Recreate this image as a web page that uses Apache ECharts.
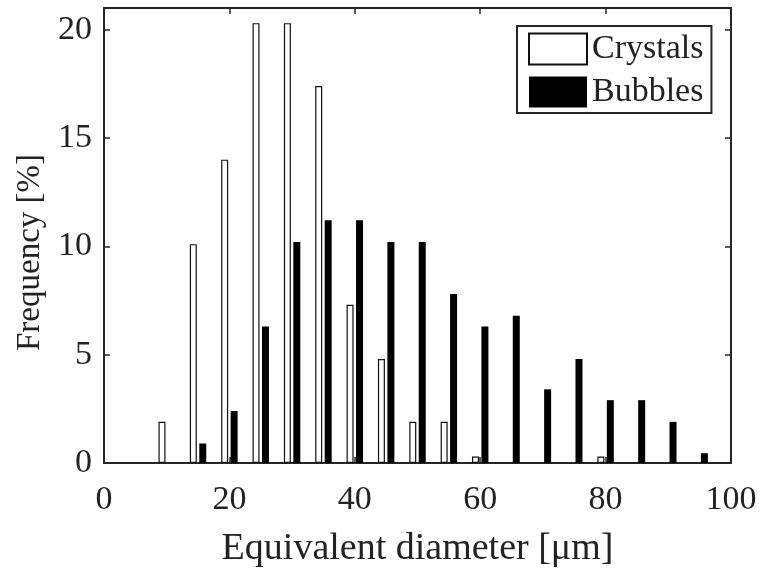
<!DOCTYPE html>
<html>
<head>
<meta charset="utf-8">
<script src="https://cdn.jsdelivr.net/npm/echarts@6/dist/echarts.min.js"></script>
<style>
html,body{margin:0;padding:0;background:#fff;}
#c{width:764px;height:575px;}
</style>
</head>
<body>
<div id="c"></div>
<script>
// Bin centres (µm)
const crystalX = [10, 15, 20, 25, 30, 35, 40, 45, 50, 55, 60, 80];
const crystalY = [1.9, 10.1, 14.0, 20.3, 20.3, 17.4, 7.3, 4.8, 1.9, 1.9, 0.3, 0.3];
const bubbleX = [15, 20, 25, 30, 35, 40, 45, 50, 55, 60, 65, 70, 75, 80, 85, 90, 95];
const bubbleY = [0.9, 2.4, 6.3, 10.2, 11.2, 11.2, 10.2, 10.2, 7.8, 6.3, 6.8, 3.4, 4.8, 2.9, 2.9, 1.9, 0.45];
const xTicks = [0, 20, 40, 60, 80, 100];
const yTicks = [0, 5, 10, 15, 20];

const FONT = 'Liberation Serif';
const TXT = '#222';
const LINE = '#262626';

const crystalData = crystalX.map((x, i) => [x, crystalY[i]]);
const bubbleData = bubbleX.map((x, i) => [x, bubbleY[i]]);

const chart = echarts.init(document.getElementById('c'), null, {renderer: 'canvas'});
chart.setOption({
  animation: false,
  backgroundColor: '#fff',
  grid: {left: 104, right: 33, top: 8, bottom: 112},
  legend: {
    orient: 'vertical',
    left: 517, top: 26,
    padding: [6, 8, 4, 11],
    itemWidth: 58, itemHeight: 31, itemGap: 9,
    icon: 'rect',
    borderColor: LINE, borderWidth: 2,
    backgroundColor: '#fff',
    textStyle: {fontFamily: FONT, fontSize: 34, color: TXT},
    data: ['Crystals', 'Bubbles']
  },
  xAxis: [{
    type: 'value', min: 0, max: 100, interval: 20,
    name: 'Equivalent diameter [μm]', nameLocation: 'middle', nameGap: 67,
    nameTextStyle: {fontFamily: FONT, fontSize: 38, color: TXT},
    axisLine: {show: true, lineStyle: {color: LINE, width: 2}},
    axisTick: {show: true, inside: true, length: 6, lineStyle: {color: LINE, width: 1.5}},
    axisLabel: {fontFamily: FONT, fontSize: 34, color: TXT, margin: 20},
    splitLine: {show: false}
  }, {
    type: 'value', position: 'top', min: 0, max: 100, interval: 20,
    axisLine: {show: true, onZero: false, lineStyle: {color: LINE, width: 2}},
    axisTick: {show: true, inside: true, length: 6, lineStyle: {color: LINE, width: 1.5}},
    axisLabel: {show: false}, splitLine: {show: false}
  }],
  yAxis: [{
    type: 'value', min: 0, max: 21, interval: 5,
    name: 'Frequency [%]', nameLocation: 'middle', nameGap: 51,
    nameTextStyle: {fontFamily: FONT, fontSize: 33, color: TXT, padding: [0, 34, 0, 0]},
    axisLine: {show: true, lineStyle: {color: LINE, width: 2}},
    axisTick: {show: true, inside: true, length: 6, lineStyle: {color: LINE, width: 1.5},
      customValues: yTicks},
    axisLabel: {fontFamily: FONT, fontSize: 34, color: TXT, margin: 12,
      padding: [6, 0, 0, 0],
      customValues: yTicks,
      formatter: v => (yTicks.indexOf(v) >= 0 ? String(v) : '')},
    splitLine: {show: false}
  }, {
    type: 'value', position: 'right', min: 0, max: 21, interval: 5,
    axisLine: {show: true, onZero: false, lineStyle: {color: LINE, width: 2}},
    axisTick: {show: true, inside: true, length: 6, lineStyle: {color: LINE, width: 1.5},
      customValues: yTicks},
    axisLabel: {show: false}, splitLine: {show: false}
  }],
  series: [{
    name: 'Crystals', type: 'bar', xAxisIndex: 0, yAxisIndex: 0,
    barWidth: 7, barGap: '35%',
    itemStyle: {color: '#fff', borderColor: '#111', borderWidth: 1.2},
    data: crystalData
  }, {
    name: 'Bubbles', type: 'bar', xAxisIndex: 0, yAxisIndex: 0,
    barWidth: 7, barGap: '35%',
    itemStyle: {color: '#000', borderColor: '#000', borderWidth: 0},
    data: bubbleData
  }]
});
</script>
</body>
</html>
